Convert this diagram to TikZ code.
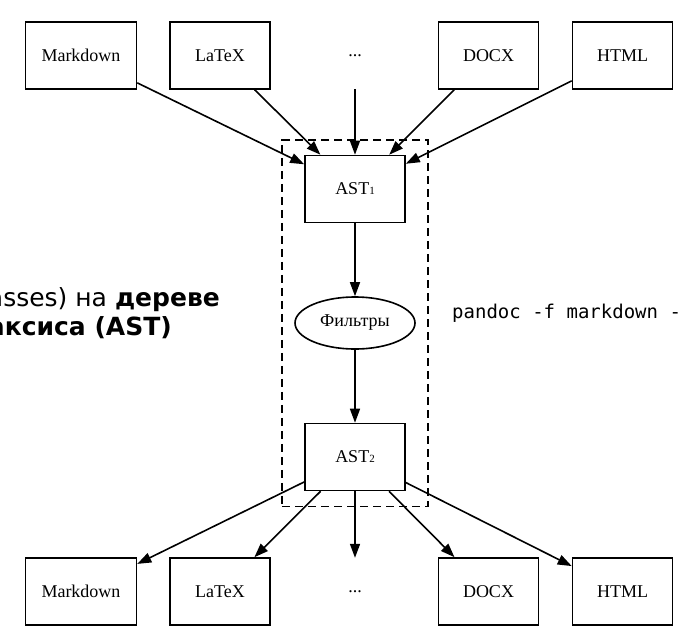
\documentclass[tikz,border=0pt]{standalone}
\usepackage{fontspec}
\setmainfont{Liberation Serif}
\newfontfamily\slidefont{DejaVu Sans}
\newfontfamily\codefont{DejaVu Sans Mono}
\usetikzlibrary{arrows.meta, shapes, fit, positioning}
\tikzset{> = { Triangle[length = 14pt, width = 10pt] }}
\tikzset{
	format/.style = {draw, line width = 1.6pt, minimum width = 100pt, minimum height = 67pt, inner xsep = 16pt, font = \fontsize{18pt}{18pt}\selectfont},
	more/.style = {minimum width = 100pt, minimum height = 67pt, font = \fontsize{18pt}{18pt}\selectfont},
	flow/.style = {->, line width = 1.6pt},
}
\newcommand{\astsub}[1]{AST{\fontsize{11pt}{11pt}\selectfont #1}}

\begin{document}
\begin{tikzpicture}[x = 1pt, y = -1pt]
	\useasboundingbox (0, 0) rectangle (690, 637);

	% slide text behind the graph
	\node [anchor = base east, inner sep = 0, font = \slidefont\fontsize{25pt}{25pt}\selectfont] (slide_a) at (220, 306) {asses) на \textbf{дереве}};
	\node [anchor = base east, inner sep = 0, font = \slidefont\fontsize{25pt}{25pt}\selectfont] (slide_b) at (172, 335) {\textbf{аксиса (AST)}};
	\node [anchor = base west, inner sep = 0, font = \codefont\fontsize{19pt}{19pt}\selectfont] (cmd) at (452, 318) {pandoc -f markdown -};

	% readers
	\node [format] (in_md) at (81, 55.5) {Markdown};
	\node [format] (in_tex) at (220, 55.5) {LaTeX};
	\node [more] (in_dots) at (355, 55.5) {...};
	\node [format] (in_docx) at (488.5, 55.5) {DOCX};
	\node [format] (in_html) at (622.5, 55.5) {HTML};

	% pipeline
	\node [format] (ast1) at (355, 189) {\astsub{1}};
	\node [draw, ellipse, line width = 1.6pt, minimum width = 120pt, minimum height = 52pt, inner sep = 0, font = \fontsize{18pt}{18pt}\selectfont] (filters) at (355, 323) {Фильтры};
	\node [format] (ast2) at (355, 457) {\astsub{2}};
	\node [draw, line width = 1.6pt, dash pattern = on 8pt off 5pt, inner xsep = 12pt, inner ysep = 15pt, fit = (ast1) (filters) (ast2)] (pipeline) {};

	% writers
	\node [format] (out_md) at (81, 591.5) {Markdown};
	\node [format] (out_tex) at (220, 591.5) {LaTeX};
	\node [more] (out_dots) at (355, 591.5) {...};
	\node [format] (out_docx) at (488.5, 591.5) {DOCX};
	\node [format] (out_html) at (622.5, 591.5) {HTML};

	\foreach \src in {in_md, in_tex, in_dots, in_docx, in_html}
		\draw [flow] (\src) -- (ast1);
	\draw [flow] (ast1) -- (filters);
	\draw [flow] (filters) -- (ast2);
	\foreach \dst in {out_md, out_tex, out_dots, out_docx, out_html}
		\draw [flow] (ast2) -- (\dst);
\end{tikzpicture}
\end{document}
